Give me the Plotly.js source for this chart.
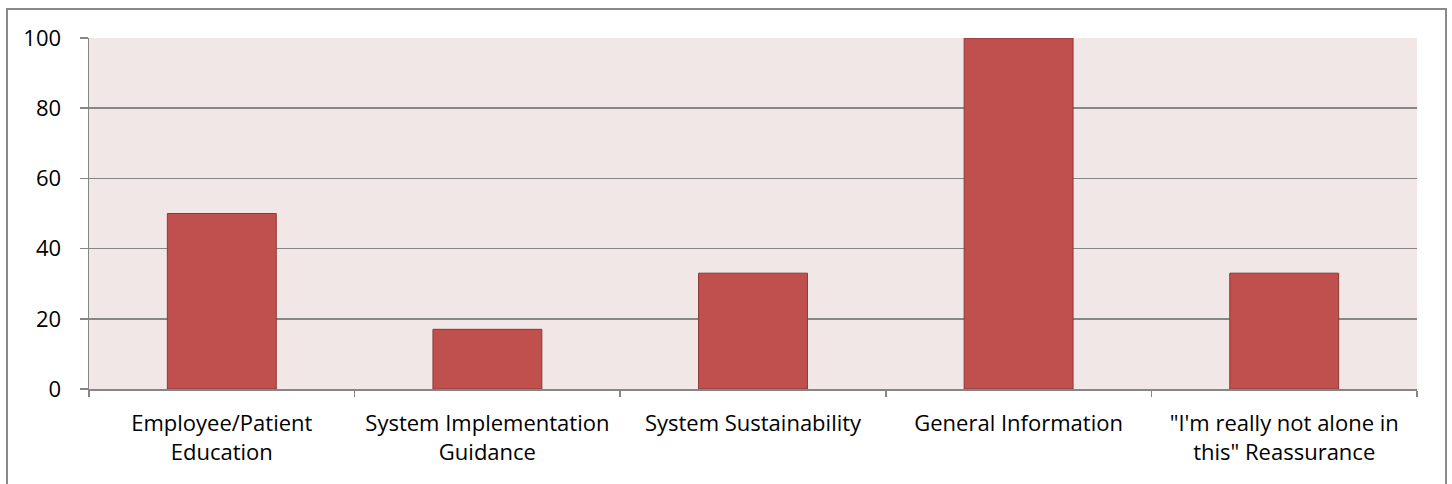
<!DOCTYPE html>
<html>
<head>
<meta charset="utf-8">
<script src="https://cdn.plot.ly/plotly-3.0.1.min.js"></script>
<style>
html,body{margin:0;padding:0;background:#fff;}
#wrap{position:relative;width:1452px;height:484px;}
#chart{width:1452px;height:484px;}
#frame{position:absolute;left:6px;top:8px;width:1441px;height:490px;border:2px solid #8a8a8a;pointer-events:none;box-sizing:border-box;}
</style>
</head>
<body>
<div id="wrap"><div id="chart"></div><div id="frame"></div></div>
<script>
const categories = [
  "Employee/Patient<br>Education",
  "System Implementation<br>Guidance",
  "System Sustainability",
  "General Information",
  "\"I'm really not alone in<br>this\" Reassurance"
];
const values = [50, 17, 33, 100, 33];
const yTicks = [0, 20, 40, 60, 80, 100];

const trace = {
  type: 'bar',
  x: categories,
  y: values,
  marker: {color: '#C0504D', line: {color: '#8C3836', width: 1}},
  hoverinfo: 'skip'
};

const layout = {
  width: 1452, height: 484,
  margin: {l: 89, r: 35, t: 38, b: 95, pad: 0},
  paper_bgcolor: '#ffffff',
  plot_bgcolor: '#F2E7E7',
  bargap: 0.59,
  showlegend: false,
  font: {family: '"Open Sans", Lato, sans-serif', size: 22, color: '#000'},
  xaxis: {
    type: 'category',
    tickson: 'boundaries',
    ticks: 'outside', ticklen: 6, tickwidth: 1.5, tickcolor: '#868686',
    showline: true, linecolor: '#868686', linewidth: 1.5,
    showgrid: false,
    tickfont: {size: 22},
    ticklabelstandoff: 14
  },
  yaxis: {
    range: [0, 100],
    tickvals: yTicks,
    ticktext: yTicks.map(String),
    ticks: 'outside', ticklen: 8, tickwidth: 1.5, tickcolor: '#868686',
    showline: true, linecolor: '#868686', linewidth: 1.5,
    showgrid: true, gridcolor: '#868686', gridwidth: 1.5,
    zeroline: false,
    tickfont: {size: 22},
    ticklabelstandoff: 14
  }
};

Plotly.newPlot('chart', [trace], layout, {staticPlot: true, displayModeBar: false});
</script>
</body>
</html>
